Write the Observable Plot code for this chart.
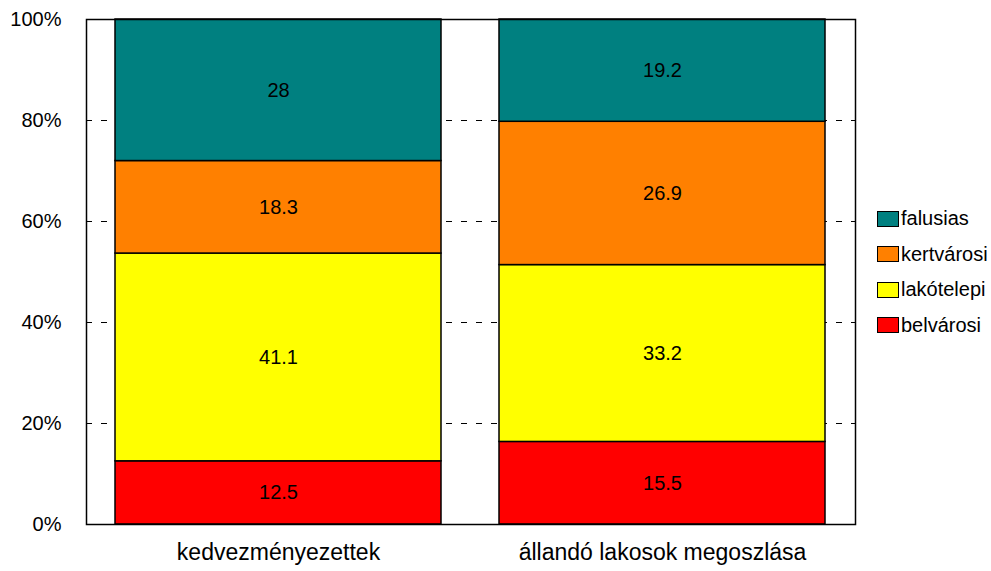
<!DOCTYPE html>
<html>
<head>
<meta charset="utf-8">
<script src="https://cdn.jsdelivr.net/npm/d3@7"></script>
<script src="https://cdn.jsdelivr.net/npm/@observablehq/plot@0.6"></script>
<style>
  body { margin: 0; background: #fff; font-family: "Liberation Sans", Arial, sans-serif; }
  #wrap { position: relative; width: 991px; height: 571px; }
  #legend { position: absolute; left: 877px; top: 201px; }
  .item { display: flex; align-items: center; height: 35.5px; font-size: 20px; color: #000; }
  .sw { width: 22px; height: 16px; border: 1.5px solid #000; margin-right: 2px; box-sizing: border-box; }
</style>
</head>
<body>
<div id="wrap"><div id="legend"></div></div>
<script>
const categories = ["kedvezményezettek", "állandó lakosok megoszlása"];
const series = ["belvárosi", "lakótelepi", "kertvárosi", "falusias"];
const colors = ["#FF0000", "#FFFF00", "#FF8000", "#008080"];
const values1 = [12.5, 41.1, 18.3, 28];
const values2 = [15.5, 33.2, 26.9, 19.2];
const yTicks = [0, 0.2, 0.4, 0.6, 0.8, 1];
const gridTicks = [0.2, 0.4, 0.6, 0.8];

const data = [];
series.forEach((s, i) => {
  data.push({cat: categories[0], series: s, value: values1[i]});
  data.push({cat: categories[1], series: s, value: values2[i]});
});

const chart = Plot.plot({
  width: 991,
  height: 571,
  marginLeft: 86,
  marginRight: 136,
  marginTop: 19,
  marginBottom: 47,
  style: {fontFamily: "Liberation Sans, Arial, sans-serif", background: "#fff"},
  x: {domain: categories, paddingInner: 0.15, paddingOuter: 0.075, label: null},
  y: {domain: [0, 1], label: null},
  color: {domain: series, range: colors},
  marks: [
    Plot.ruleY(gridTicks, {stroke: "#000", strokeDasharray: "6,9", strokeWidth: 1}),
    Plot.barY(data, Plot.stackY({offset: "normalize", order: null}, {x: "cat", y: "value", z: "series", fill: "series", stroke: "#000", strokeWidth: 1.5})),
    Plot.text(data, Plot.stackY({offset: "normalize", order: null}, {x: "cat", y: "value", z: "series", text: d => String(d.value), fontSize: 20, fill: "#000"})),
    Plot.axisY({ticks: yTicks, tickSize: 0, tickPadding: 25, tickFormat: d => Math.round(d * 100) + "%", fontSize: 20, label: null}),
    Plot.axisX({tickSize: 0, tickPadding: 19, fontSize: 23, label: null}),
    Plot.frame({stroke: "#000", strokeWidth: 1.5})
  ]
});
document.getElementById("wrap").prepend(chart);

const legend = document.getElementById("legend");
[...series].reverse().forEach(s => {
  const i = series.indexOf(s);
  const it = document.createElement("div");
  it.className = "item";
  const sw = document.createElement("div");
  sw.className = "sw";
  sw.style.background = colors[i];
  const t = document.createElement("span");
  t.textContent = s;
  it.append(sw, t);
  legend.append(it);
});
</script>
</body>
</html>
